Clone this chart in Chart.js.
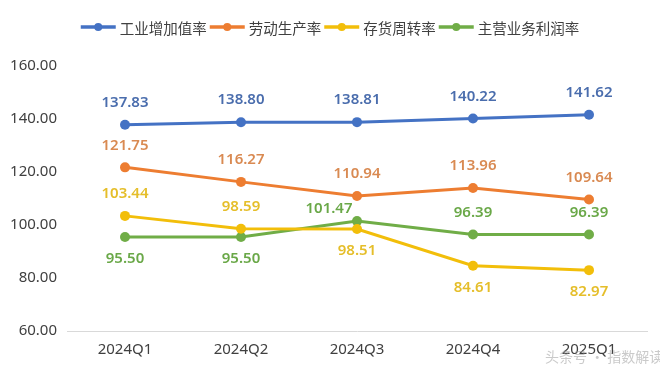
<!DOCTYPE html>
<html>
<head>
<meta charset="utf-8">
<script src="https://cdn.jsdelivr.net/npm/chart.js@4"></script>
<style>
  html, body { margin: 0; padding: 0; background: #fff; }
  #wrap { width: 660px; height: 374px; position: relative; }
</style>
</head>
<body>
<div id="wrap"><canvas id="chart" width="660" height="374"></canvas></div>
<script>
    'use strict';

    // Data
    const quarters = ['2024Q1', '2024Q2', '2024Q3', '2024Q4', '2025Q1'];
    const industrialValueAdded = [137.83, 138.80, 138.81, 140.22, 141.62];
    const laborProductivity = [121.75, 116.27, 110.94, 113.96, 109.64];
    const inventoryTurnover = [103.44, 98.59, 98.51, 84.61, 82.97];
    const operatingProfitRate = [95.50, 95.50, 101.47, 96.39, 96.39];
    const seriesNames = ['工业增加值率', '劳动生产率', '存货周转率', '主营业务利润率'];
    const yTicks = [60, 80, 100, 120, 140, 160];

    // label offsets from each point, [dx, dy] in px
    const U = [0, -22], D = [0, 22];
    const labelOffsets = [
        [U, U, U, U, U],
        [U, U, U, U, U],
        [U, U, D, D, D],
        [D, D, [-28, -12], U, U]
    ];

    const lineColors = ['#4472C4', '#ED7D31', '#F2BE0A', '#70AD47'];
    const labelColors = ['#4A6DAD', '#D98A52', '#E5BE2A', '#6AA848'];

    const FONT = '"Noto Sans", "Noto Sans CJK SC", sans-serif';
    const CJK = '"Noto Sans CJK SC", "Noto Sans", sans-serif';

    const pointLabels = {
        id: 'pointLabels',
        afterDatasetsDraw(chart) {
            const ctx = chart.ctx;
            ctx.save();
            ctx.font = '600 15px ' + FONT;
            ctx.textAlign = 'center';
            ctx.textBaseline = 'middle';
            chart.data.datasets.forEach((ds, i) => {
                const meta = chart.getDatasetMeta(i);
                ctx.fillStyle = labelColors[i];
                meta.data.forEach((pt, j) => {
                    const off = labelOffsets[i][j];
                    ctx.fillText(ds.data[j].toFixed(2), pt.x + off[0], pt.y + off[1]);
                });
            });
            ctx.restore();
        }
    };

    const topLegend = {
        id: 'topLegend',
        afterDraw(chart) {
            const ctx = chart.ctx;
            ctx.save();
            ctx.font = '14.5px ' + CJK;
            ctx.textBaseline = 'middle';
            const lineW = 35, gapText = 4, gapItem = 3;
            const widths = seriesNames.map(n => ctx.measureText(n).width);
            let total = 0;
            widths.forEach(w => { total += lineW + gapText + w; });
            total += gapItem * (seriesNames.length - 1);
            let x = 330 - total / 2;
            const y = 27;
            seriesNames.forEach((name, i) => {
                ctx.strokeStyle = lineColors[i];
                ctx.lineWidth = 3.5;
                ctx.beginPath();
                ctx.moveTo(x, y);
                ctx.lineTo(x + lineW, y);
                ctx.stroke();
                ctx.fillStyle = lineColors[i];
                ctx.beginPath();
                ctx.arc(x + lineW / 2, y, 4, 0, Math.PI * 2);
                ctx.fill();
                ctx.fillStyle = '#404040';
                ctx.fillText(name, x + lineW + gapText, y + 1);
                x += lineW + gapText + widths[i] + gapItem;
            });
            // watermark
            ctx.font = '14px ' + CJK;
            ctx.fillStyle = 'rgba(150,150,150,0.5)';
            ctx.textAlign = 'left';
            ctx.fillText('头条号 · 指数解读', 545, 357);
            ctx.restore();
        }
    };

    const series = [industrialValueAdded, laborProductivity, inventoryTurnover, operatingProfitRate];

    new Chart(document.getElementById('chart'), {
        type: 'line',
        data: {
            labels: quarters,
            datasets: series.map((values, i) => ({
                label: seriesNames[i],
                data: values,
                borderColor: lineColors[i],
                backgroundColor: lineColors[i],
                borderWidth: 3,
                pointRadius: 5,
                pointHoverRadius: 5,
                pointBorderWidth: 0,
                tension: 0
            }))
        },
        options: {
            responsive: false,
            animation: false,
            layout: { padding: { top: 66, right: 13, bottom: 0, left: 0 } },
            plugins: {
                legend: { display: false },
                tooltip: { enabled: false }
            },
            scales: {
                x: {
                    offset: true,
                    grid: { display: false, drawTicks: false },
                    border: { color: '#D9D9D9', width: 1 },
                    ticks: { color: '#404040', font: { family: FONT, size: 15 }, padding: 10 },
                    afterFit: (s) => { s.height = 43; }
                },
                y: {
                    min: 60,
                    max: 160,
                    afterBuildTicks: (s) => { s.ticks = yTicks.map(v => ({ value: v })); },
                    grid: { display: false, drawTicks: false },
                    border: { display: false },
                    ticks: {
                        color: '#404040',
                        font: { family: FONT, size: 15 },
                        padding: 10,
                        callback: (v) => Number(v).toFixed(2)
                    },
                    afterFit: (s) => { s.width = 67; }
                }
            }
        },
        plugins: [pointLabels, topLegend]
    });
</script>
</body>
</html>
